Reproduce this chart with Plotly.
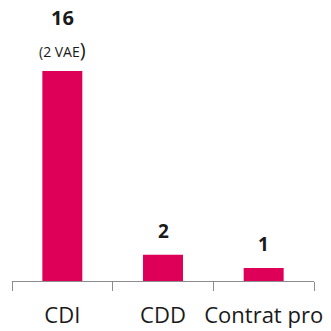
import plotly.graph_objects as go

categories = ["CDI", "CDD", "Contrat pro"]
values = [16, 2, 1]
notes = ["(2 VAE<span style='font-size:20px'>)</span>", "", ""]

bar_color = "#DE0058"
font_family = "'Open Sans', sans-serif"

fig = go.Figure(go.Bar(x=categories, y=values, marker=dict(color=bar_color, line=dict(width=0)),
                       hoverinfo="skip"))

annotations = []
for c, v, n in zip(categories, values, notes):
    if n:
        annotations.append(dict(x=c, y=v, text=n, showarrow=False, yanchor="middle", yshift=22,
                                font=dict(size=14, color="#1a1a1a", family=font_family)))
        annotations.append(dict(x=c, y=v, text="<b>%d</b>" % v, showarrow=False, yanchor="middle",
                                yshift=54, font=dict(size=20, color="#1a1a1a", family=font_family)))
    else:
        annotations.append(dict(x=c, y=v, text="<b>%d</b>" % v, showarrow=False, yanchor="middle",
                                yshift=24, font=dict(size=19, color="#1a1a1a", family=font_family)))

fig.update_layout(
    width=331, height=331,
    margin=dict(l=12, r=17, t=0, b=50, autoexpand=False),
    paper_bgcolor="white", plot_bgcolor="white",
    bargap=0.603,
    showlegend=False,
    annotations=annotations,
    xaxis=dict(type="category", range=[-0.5, 2.5], showline=True, linecolor="#8c8c8c", linewidth=1,
               ticks="outside", tickson="boundaries", ticklen=9, tickcolor="#8c8c8c", tickwidth=1,
               showgrid=False, zeroline=False, automargin=False, ticklabelstandoff=15, tickangle=0,
               tickfont=dict(size=22, color="#1a1a1a", family=font_family)),
    yaxis=dict(range=[0, 21.41], visible=False, showgrid=False, zeroline=False, automargin=False),
)

fig.write_html("out.html", config={"displayModeBar": False},
               post_script="document.body.style.margin='0';document.body.style.overflow='hidden';")
